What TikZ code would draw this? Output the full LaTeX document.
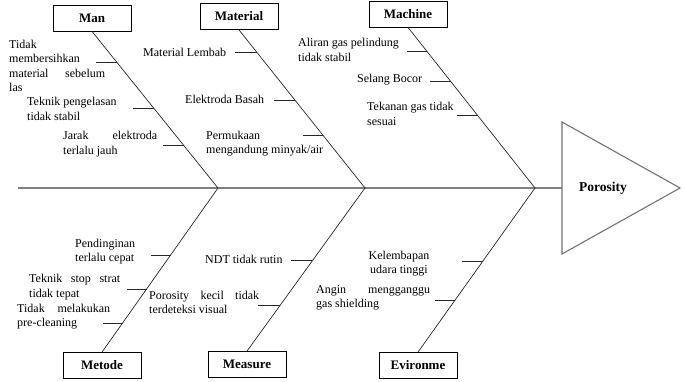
\documentclass[tikz,border=0pt]{standalone}
\usepackage{fontspec}
\setmainfont{Liberation Serif}
\usetikzlibrary{calc}
\begin{document}
\begin{tikzpicture}[x=1pt,y=-1pt,
  cat/.style={draw, line width=0.8pt, minimum width=78pt, minimum height=26pt, inner sep=0pt, font=\fontsize{13}{15}\selectfont\bfseries},
  bone/.style={draw=black!85, line width=0.7pt},
  rib/.style={draw=black!85, line width=0.7pt},
  txt/.style={inner sep=0pt, align=left, font=\fontsize{12}{14.5}\selectfont},
  ctxt/.style={inner sep=0pt, align=center, font=\fontsize{12}{14.5}\selectfont},
  spine/.style={draw=black!50, line width=2pt},
  head/.style={draw=black!55, line width=1.1pt},
]
\useasboundingbox (0,0) rectangle (686,381);

% spine and head
\coordinate (s0) at (18,188);
\coordinate (j1) at (218,188);
\coordinate (j2) at (365,188);
\coordinate (j3) at (535,188);
\coordinate (hd) at (562,188);
\coordinate (ht) at (562,122);
\coordinate (hb) at (562,254);
\coordinate (ha) at (680,188);
\draw[spine] (s0) -- (hd);
\draw[head] (ht) -- (ha) -- (hb) -- cycle;
\node[inner sep=0pt, font=\fontsize{13.5}{15}\selectfont\bfseries] (effect) at (603,188) {Porosity};

% category boxes
\node[cat] (man) at (92,18) {Man};
\node[cat] (material) at (239,16.5) {Material};
\node[cat] (machine) at (408,14) {Machine};
\node[cat] (metode) at (102,365.5) {Metode};
\node[cat] (measure) at (247,364.5) {Measure};
\node[cat] (env) at (418,365.5) {Evironme};

% bones
\draw[bone] (man.south) -- (j1);
\draw[bone] (material.south) -- (j2);
\draw[bone] (machine.south) -- (j3);
\draw[bone] (j1) -- (metode.north);
\draw[bone] (j2) -- (measure.north);
\draw[bone] (j3) -- (env.north);

% ribs - Man
\coordinate (ma1) at ($(man.south)!0.200!(j1)$);
\coordinate (ma2) at ($(man.south)!0.492!(j1)$);
\coordinate (ma3) at ($(man.south)!0.727!(j1)$);
\draw[rib] (ma1) -- ++(-21,0);
\draw[rib] (ma2) -- ++(-21,0);
\draw[rib] (ma3) -- ++(-21,0);
% ribs - Material
\coordinate (mt1) at ($(material.south)!0.142!(j2)$);
\coordinate (mt2) at ($(material.south)!0.445!(j2)$);
\coordinate (mt3) at ($(material.south)!0.666!(j2)$);
\draw[rib] (mt1) -- ++(-22,0);
\draw[rib] (mt2) -- ++(-21,0);
\draw[rib] (mt3) -- ++(-20,0);
% ribs - Machine
\coordinate (mc1) at ($(machine.south)!0.149!(j3)$);
\coordinate (mc2) at ($(machine.south)!0.335!(j3)$);
\coordinate (mc3) at ($(machine.south)!0.547!(j3)$);
\draw[rib] (mc1) -- ++(-20,0);
\draw[rib] (mc2) -- ++(-21,0);
\draw[rib] (mc3) -- ++(-20,0);
% ribs - Metode
\coordinate (me1) at ($(j1)!0.409!(metode.north)$);
\coordinate (me2) at ($(j1)!0.616!(metode.north)$);
\coordinate (me3) at ($(j1)!0.823!(metode.north)$);
\draw[rib] (me1) -- ++(-20,0);
\draw[rib] (me2) -- ++(-20,0);
\draw[rib] (me3) -- ++(-20,0);
% ribs - Measure
\coordinate (ms1) at ($(j2)!0.445!(measure.north)$);
\coordinate (ms2) at ($(j2)!0.720!(measure.north)$);
\draw[rib] (ms1) -- ++(-21,0);
\draw[rib] (ms2) -- ++(-22,0);
% ribs - Environment
\coordinate (ev1) at ($(j3)!0.445!(env.north)$);
\coordinate (ev2) at ($(j3)!0.683!(env.north)$);
\draw[rib] (ev1) -- ++(-21,0);
\draw[rib] (ev2) -- ++(-20,0);

% texts - Man
\node[txt, anchor=west] (t1) at (9,66) {Tidak\\membersihkan\\\makebox[96pt][s]{material\hfill sebelum}\\las};
\node[txt, anchor=west] (t2) at (27,109) {Teknik pengelasan\\tidak stabil};
\node[txt, anchor=west] (t3) at (63,144) {\makebox[94pt][s]{Jarak\hfill elektroda}\\terlalu jauh};
% texts - Material
\node[txt, anchor=west] (t4) at (143,52) {Material Lembab};
\node[txt, anchor=west] (t5) at (185,99) {Elektroda Basah};
\node[txt, anchor=west] (t6) at (206,143.5) {Permukaan\\mengandung minyak/air};
% texts - Machine
\node[txt, anchor=west] (t7) at (298,50) {Aliran gas pelindung\\tidak stabil};
\node[txt, anchor=west] (t8) at (357,80) {Selang Bocor};
\node[txt, anchor=west] (t9) at (367,114) {Tekanan gas tidak\\sesuai};
% texts - Metode
\node[txt, anchor=west] (t10) at (75,251.5) {Pendinginan\\terlalu cepat};
\node[txt, anchor=west] (t11) at (29,287) {\makebox[91pt][s]{Teknik\hfill stop\hfill strat}\\tidak tepat};
\node[txt, anchor=west] (t12) at (17,316.5) {\makebox[93pt][s]{Tidak\hfill melakukan}\\pre-cleaning};
% texts - Measure
\node[txt, anchor=west] (t13) at (205,259) {NDT tidak rutin};
\node[txt, anchor=west] (t14) at (149,302.5) {\makebox[110pt][s]{Porosity\hfill kecil\hfill tidak}\\terdeteksi visual};
% texts - Environment
\node[ctxt] (t15) at (399,263.5) {Kelembapan\\udara tinggi};
\node[txt, anchor=west] (t16) at (316,298) {\makebox[114pt][s]{Angin\hfill mengganggu}\\gas shielding};
\end{tikzpicture}
\end{document}
